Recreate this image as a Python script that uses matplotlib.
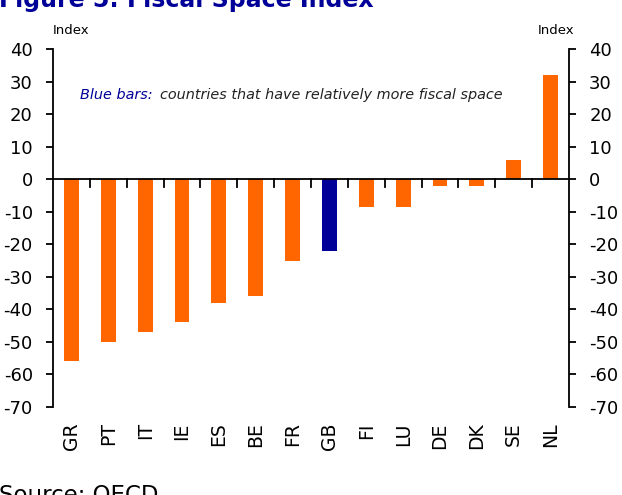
import matplotlib
matplotlib.use("Agg")
import matplotlib.pyplot as plt
import numpy as np

countries = ["GR", "PT", "IT", "IE", "ES", "BE", "FR", "GB", "FI", "LU", "DE", "DK", "SE", "NL"]
values = [-56, -50, -47, -44, -38, -36, -25, -22, -8.5, -8.5, -2, -2, 6, 32]
highlight = ["GB"]
yticks = [40, 30, 20, 10, 0, -10, -20, -30, -40, -50, -60, -70]

orange = "#FF6600"
blue = "#000099"

plt.rcParams['font.family'] = ['DejaVu Sans']
W, H = 622, 495
fig = plt.figure(figsize=(W/100, H/100), dpi=100)
L, R, T, B = 53, 569, 49, 407
ax = fig.add_axes([L/W, 1 - B/H, (R-L)/W, (B-T)/H])

x = np.arange(len(countries))
colors = [blue if c in highlight else orange for c in countries]
ax.bar(x, values, width=0.4, color=colors, zorder=2)

ax.set_xlim(-0.5, len(countries) - 0.5)
ax.set_ylim(-70, 40)
ax.set_yticks(yticks)
ax.set_yticklabels([str(v) for v in yticks], fontsize=13)
ax.tick_params(axis='y', direction='out', length=5, width=1.3, left=True, right=True,
               labelleft=True, labelright=True, colors='black', pad=9.5)
ax.spines['top'].set_visible(False)
ax.spines['bottom'].set_visible(False)
ax.spines['left'].set_linewidth(1.3)
ax.spines['right'].set_linewidth(1.3)

ax.axhline(0, color='black', linewidth=1.3, zorder=3)
# category separators on zero line
for b in np.arange(0.5, len(countries) - 1, 1.0):
    ax.plot([b, b], [0, -2.4], color='black', linewidth=1.3, zorder=3)

ax.set_xticks(x)
ax.set_xticklabels(countries, rotation=90, fontsize=13.5)
ax.tick_params(axis='x', length=0, pad=11)

fig.text(53/W, 1 - 31/H, "Index", fontsize=9.5, ha='left', va='center')
fig.text(574/W, 1 - 31/H, "Index", fontsize=9.5, ha='right', va='center')

fig.text(80/W, 1 - 95/H, "Blue bars:", fontsize=10.4, style='italic',
         color=blue, ha='left', va='center')
fig.text(160/W, 1 - 95/H, "countries that have relatively more fiscal space",
         fontsize=10.4, style='italic', color='#222222', ha='left', va='center')

fig.text(-0.002, 1 - 7/H, "Figure 5: Fiscal Space Index", fontsize=17, fontweight='bold',
         color='#000099', ha='left', va='baseline')
fig.text(-0.002, 1 - 484/H, "Source: OECD", fontsize=16.5, color='black', ha='left', va='top')

fig.savefig("out.png", dpi=100)
